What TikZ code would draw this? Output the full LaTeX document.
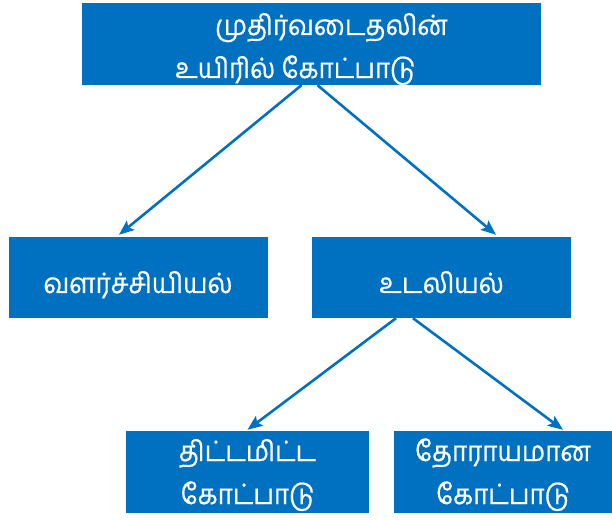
\documentclass[tikz,border=0pt]{standalone}
\usepackage{fontspec}
\newfontfamily\tamilfont[Script=Tamil,FakeStretch=0.93,FakeBold=0.6]{Hind Madurai}
\usepackage{tikz}
\usetikzlibrary{
  positioning,
  arrows.meta
}
\definecolor{boxblue}{RGB}{0,112,192}
\tikzset{
  >=Stealth,
  flowarrow/.style={-{Stealth[length=15pt,width=12pt,inset=3pt]},line width=2.6pt,draw=boxblue},
  topic/.style={rectangle,fill=boxblue,text=white,align=center,inner sep=0pt,
    minimum width=259pt,minimum height=81pt,text height=56pt,text depth=25pt,
    font=\tamilfont\fontsize{28}{43}\selectfont},
  subtopic/.style={topic,minimum height=82pt,text height=73pt,text depth=9pt}
}

\begin{document}
\begin{tikzpicture}[x=1pt, y=1pt, node distance=233.5pt, on grid]
    \useasboundingbox (0,0) rectangle (612,519);
    \node[topic,minimum width=459pt,minimum height=82pt,text height=75pt,text depth=7pt,align=left] (muthirvu) at (311.5,475)
      {\hspace*{40pt}முதிர்வடைதலின்\\உயிரில் கோட்பாடு};
    \node[topic,below=of muthirvu, xshift=-173.5pt] (valarchi) {வளர்ச்சியியல்};
    \node[topic,below=of muthirvu, xshift=130pt] (udal) {உடலியல்};
    \node[subtopic,below=194.5pt of udal, xshift=-194pt, minimum width=243pt] (thittam) {திட்டமிட்ட\\கோட்பாடு};
    \node[subtopic,below=194.5pt of udal, xshift=61.5pt, minimum width=218pt] (thorayam) {தோராயமான\\கோட்பாடு};

    \draw[flowarrow] ([xshift=-10pt]muthirvu.south) -- ([xshift=-19pt,yshift=2pt]valarchi.north);
    \draw[flowarrow] ([xshift=6pt]muthirvu.south) -- ([xshift=54.5pt,yshift=2pt]udal.north);
    \draw[flowarrow] ([xshift=-45.5pt]udal.south) -- ([yshift=1pt]thittam.north);
    \draw[flowarrow] ([xshift=-28.5pt]udal.south) -- ([xshift=60pt,yshift=1pt]thorayam.north);
\end{tikzpicture}
\end{document}
